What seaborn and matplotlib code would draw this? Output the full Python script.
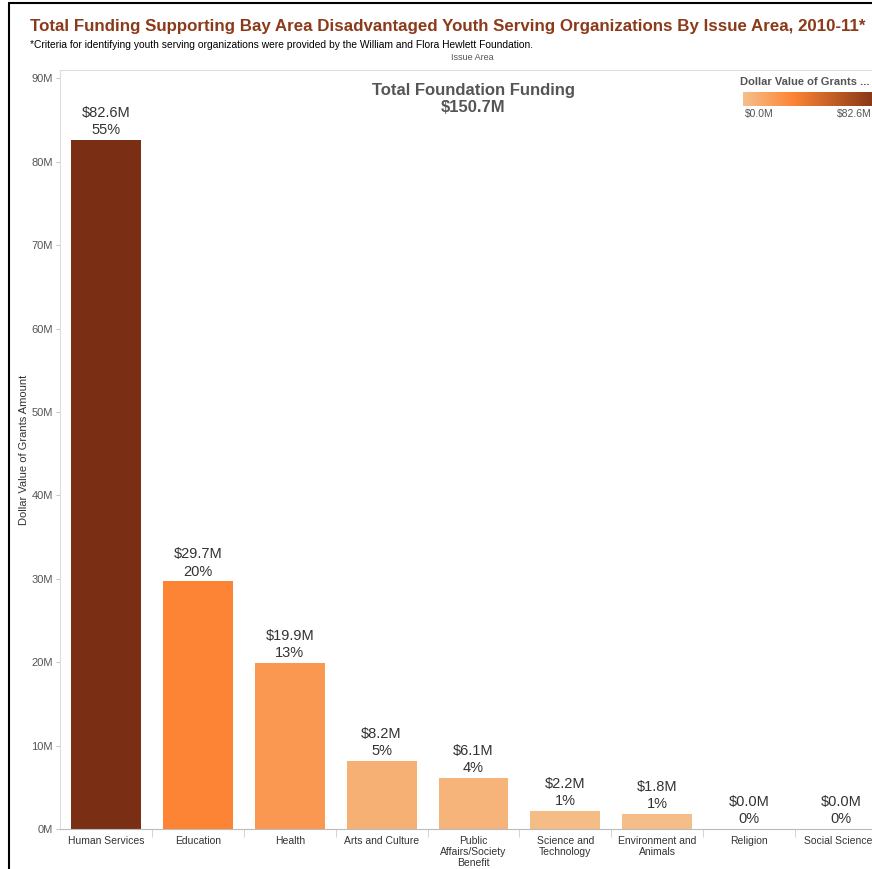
'''
Bar chart of youth-serving funding by issue area, Tableau style.
'''
import numpy as np
import matplotlib
matplotlib.use('Agg')
import matplotlib.pyplot as plt
from matplotlib.colors import LinearSegmentedColormap, Normalize
from matplotlib.lines import Line2D
import pandas as pd
import seaborn as sns

categories = ['Human Services', 'Education', 'Health', 'Arts and Culture',
              'Public\nAffairs/Society\nBenefit', 'Science and\nTechnology',
              'Environment and\nAnimals', 'Religion', 'Social Sciences']
amounts = [82.6, 29.7, 19.9, 8.2, 6.1, 2.2, 1.8, 0.0, 0.0]
percents = [55, 20, 13, 5, 4, 1, 1, 0, 0]
total_funding = 150.7
yticks = [0, 10, 20, 30, 40, 50, 60, 70, 80, 90]

sns.set_theme(style='white')
plt.rcParams['font.family'] = ['Liberation Sans', 'DejaVu Sans']

cmap = LinearSegmentedColormap.from_list(
    'tab_orange', [(0.0, '#F5C08C'), (0.36, '#FC8434'), (1.0, '#7A2E13')])
norm = Normalize(vmin=0, vmax=max(amounts))
palette = {c: cmap(norm(v)) for c, v in zip(categories, amounts)}

df = pd.DataFrame({'Issue Area': categories, 'Amount': amounts})

fig = plt.figure(figsize=(8.72, 8.69), dpi=100)
ax = fig.add_axes([60 / 872, 1 - 829 / 869, 827 / 872, 759 / 869])

sns.barplot(data=df, x='Issue Area', y='Amount', hue='Issue Area',
            palette=palette, width=0.76, legend=False, saturation=1,
            linewidth=0, ax=ax)

ax.set_xlim(-0.5, len(categories) - 0.5)
ax.set_ylim(0, 91)
ax.set_yticks(yticks)
ax.set_yticklabels([f'{t}M' for t in yticks], fontsize=8, color='#555555')
ax.set_xticks(range(len(categories)))
ax.set_xticklabels(categories, fontsize=7.5, color='#333333', linespacing=1.1)
ax.tick_params(axis='x', length=0, pad=5)
ax.tick_params(axis='y', length=3, width=0.6, color='#bbbbbb', pad=2, left=True)
ax.set_xticks(np.arange(len(categories)) + 0.5, minor=True)
ax.tick_params(axis='x', which='minor', length=6, width=0.6, color='#cccccc', bottom=True)
ax.set_xlabel('')
ax.set_ylabel('Dollar Value of Grants Amount', fontsize=8, color='#333333', labelpad=2)
for side in ['top', 'left', 'right', 'bottom']:
    ax.spines[side].set_color('#dddddd')
    ax.spines[side].set_linewidth(0.8)
ax.spines['bottom'].set_color('#bbbbbb')

for i, (v, p) in enumerate(zip(amounts, percents)):
    ax.annotate(f'${v:.1f}M\n{p}%', (i, v), xytext=(0, 2), textcoords='offset points',
                ha='center', va='bottom', fontsize=10.5, color='#333333', linespacing=1.3)

fig.text(473 / 872, 1 - 90 / 869, 'Total Foundation Funding', ha='center', va='center',
         fontsize=12, fontweight='bold', color='#555555')
fig.text(473 / 872, 1 - 108 / 869, f'${total_funding}M', ha='center', va='center',
         fontsize=12, fontweight='bold', color='#555555')

# titles
fig.text(30 / 872, 1 - 26 / 869,
         'Total Funding Supporting Bay Area Disadvantaged Youth Serving Organizations By Issue Area, 2010-11*',
         ha='left', va='center', fontsize=12.2, fontweight='bold', color='#8B3A1A')
fig.text(30 / 872, 1 - 45 / 869,
         '*Criteria for identifying youth serving organizations were provided by the William and Flora Hewlett Foundation.',
         ha='left', va='center', fontsize=7.4, color='#000000')
fig.text(472 / 872, 1 - 58 / 869, 'Issue Area', ha='center', va='center',
         fontsize=6.5, color='#555555')

# colour legend
fig.text(740 / 872, 1 - 82 / 869, 'Dollar Value of Grants ...', ha='left', va='center',
         fontsize=8, fontweight='bold', color='#555555')
cax = fig.add_axes([743 / 872, 1 - 106 / 869, 140 / 872, 14 / 869])
cax.imshow(np.linspace(0, 1, 256).reshape(1, -1), aspect='auto', cmap=cmap,
           extent=[0, 1, 0, 1])
cax.set_axis_off()
fig.text(745 / 872, 1 - 114 / 869, '$0.0M', ha='left', va='center', fontsize=7.5, color='#555555')
fig.text(872 / 872, 1 - 114 / 869, f'${max(amounts)}M', ha='right', va='center',
         fontsize=7.5, color='#555555')

# outer dashboard border
fig.add_artist(Line2D([9 / 872, 9 / 872], [0, 1 - 3 / 869], color='black', lw=1.5))
fig.add_artist(Line2D([9 / 872, 1], [1 - 3 / 869, 1 - 3 / 869], color='black', lw=1.5))

fig.savefig('out.png', dpi=100)
